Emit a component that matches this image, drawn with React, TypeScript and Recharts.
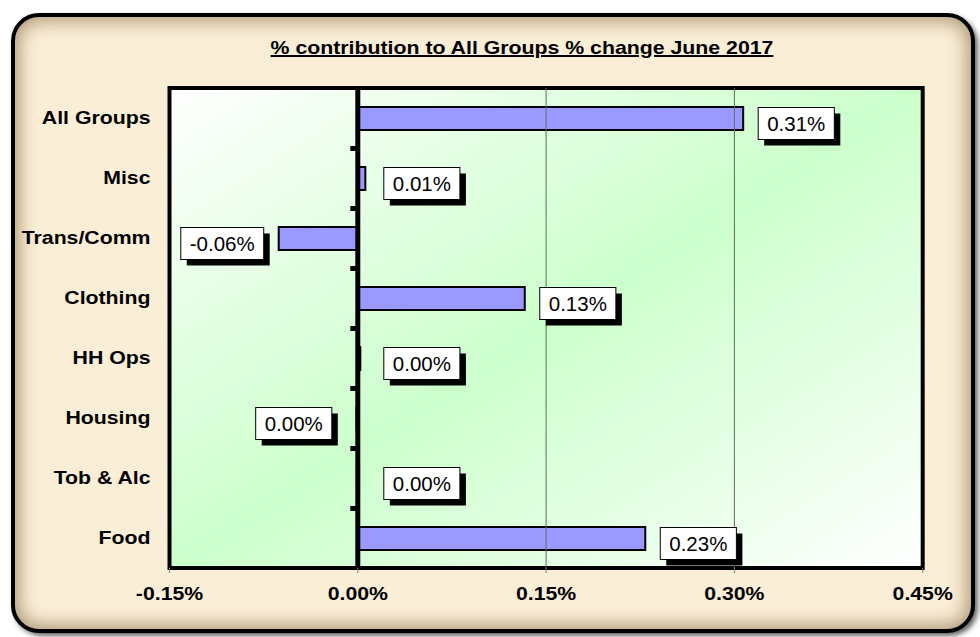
import React from 'react';
import {
  BarChart,
  Bar,
  XAxis,
  YAxis,
  CartesianGrid,
  ReferenceLine,
  ReferenceArea,
  LabelList,
} from 'recharts';

const categories = ['All Groups', 'Misc', 'Trans/Comm', 'Clothing', 'HH Ops', 'Housing', 'Tob & Alc', 'Food'];
const contributions = [0.307, 0.006, -0.063, 0.133, 0.002, -0.001, 0.001, 0.229];
const valueLabels = ['0.31%', '0.01%', '-0.06%', '0.13%', '0.00%', '0.00%', '0.00%', '0.23%'];
const xTicks = [-0.15, 0, 0.15, 0.3, 0.45];
const gridValues = [0.15, 0.3];

const chartData = categories.map((name, i) => ({ name, value: contributions[i] }));

const FONT = "'Liberation Sans', Arial, sans-serif";
const W = 980;
const H = 637;
const MARGIN = { top: 88, right: 57.3, bottom: 29, left: 19.5 };
const X_AXIS_H = 40;
const BAND = (H - MARGIN.top - MARGIN.bottom - X_AXIS_H) / categories.length;

// rough Arial widths (em) for the label boxes
const charW: Record<string, number> = { '.': 0.278, '%': 0.889, '-': 0.333 };
const textWidth = (s: string, size: number) =>
  s.split('').reduce((acc, c) => acc + (charW[c] ?? 0.556), 0) * size;

const CategoryTick = (props: any) => {
  const { x, y, payload } = props;
  return (
    <g transform={`translate(${x},${y}) scale(1.15,1)`}>
      <text textAnchor="end" dy="0.35em" fontFamily={FONT} fontWeight="bold" fontSize={18.5} fill="#000">
        {payload.value}
      </text>
    </g>
  );
};

const PercentTick = (props: any) => {
  const { x, y, payload } = props;
  return (
    <g transform={`translate(${x},${y}) scale(1.18,1)`}>
      <text textAnchor="middle" dy="0.71em" fontFamily={FONT} fontWeight="bold" fontSize={18} fill="#000">
        {`${payload.value.toFixed(2)}%`}
      </text>
    </g>
  );
};

const BarShape = (props: any) => {
  const { x, y, width, height, index } = props;
  const left = Math.min(x, x + width);
  const w = Math.abs(width);
  const v = contributions[index];
  const zero = v >= 0 ? left : left + w;
  const bandTop = y + height / 2 - BAND / 2;
  return (
    <g>
      <rect x={left} y={y} width={w} height={height} fill="#9999ff" stroke="#000" strokeWidth={2} />
      {index > 0 && <rect x={zero - 7.5} y={bandTop - 2.5} width={6} height={5} fill="#000" />}
    </g>
  );
};

const ValueLabel = (props: any) => {
  const vb = props.viewBox ?? props;
  const { x, y, width, height } = vb;
  const idx = props.index;
  const v = contributions[idx];
  const left = Math.min(x, x + width);
  const right = Math.max(x, x + width);
  const zero = v >= 0 ? left : right;
  const len = right - left;
  const txt = valueLabels[idx];
  const fs = 20.5;
  const w = textWidth(txt, fs) + 18;
  const h = 32;
  const off = Math.max(len + 15, 26);
  const bx = v >= 0 ? zero + off : zero - off - w;
  const cy = y + height / 2 + 5;
  return (
    <g>
      <rect x={bx + 6} y={cy - h / 2 + 6} width={w} height={h} fill="#000" />
      <rect x={bx} y={cy - h / 2} width={w} height={h} fill="#fff" stroke="#000" strokeWidth={1} />
      <text x={bx + w / 2} y={cy} dy="0.36em" textAnchor="middle" fontFamily={FONT} fontSize={fs} fill="#000">
        {txt}
      </text>
    </g>
  );
};

export default function App() {
  return (
    <div style={{ position: 'absolute', left: 0, top: 0, width: W, height: H, background: '#fff', overflow: 'hidden' }}>
      <div
        style={{
          position: 'absolute',
          left: 11,
          top: 13,
          width: 964,
          height: 620,
          boxSizing: 'border-box',
          border: '4px solid #000',
          borderRadius: 28,
          background: '#fbeed6',
          boxShadow: 'inset 0 0 18px 4px rgba(110,80,40,0.55), 3px 3px 5px rgba(0,0,0,0.6)',
        }}
      />
      <div
        style={{
          position: 'absolute',
          left: 522,
          top: 39,
          transform: 'translateX(-50%) scaleX(1.15)',
          whiteSpace: 'nowrap',
          fontFamily: FONT,
          fontWeight: 'bold',
          fontSize: 18.5,
          lineHeight: '18.5px',
          textDecoration: 'underline',
          textDecorationThickness: 2,
          color: '#000',
        }}
      >
        % contribution to All Groups % change June 2017
      </div>
      <div style={{ position: 'absolute', left: 0, top: 0 }}>
        <BarChart width={W} height={H} layout="vertical" data={chartData} margin={MARGIN}>
          <defs>
            <linearGradient id="plotBg" x1="0" y1="0" x2="1" y2="1">
              <stop offset="0%" stopColor="#ffffff" />
              <stop offset="50%" stopColor="#ccffcc" />
              <stop offset="100%" stopColor="#ffffff" />
            </linearGradient>
          </defs>
          <CartesianGrid horizontal={false} vertical={false} fill="url(#plotBg)" />
          <XAxis
            type="number"
            domain={[-0.15, 0.45]}
            ticks={xTicks}
            allowDataOverflow
            axisLine={false}
            tickLine={{ stroke: '#808080' }}
            tickSize={5}
            tickMargin={14}
            height={X_AXIS_H}
            tick={<PercentTick />}
          />
          <YAxis
            type="category"
            dataKey="name"
            width={150}
            axisLine={false}
            tickLine={false}
            tickSize={0}
            tickMargin={19}
            tick={<CategoryTick />}
          />
          {gridValues.map((g) => (
            <ReferenceLine key={g} x={g} stroke="#5a725a" strokeWidth={1} />
          ))}
          <ReferenceLine x={0} stroke="#000" strokeWidth={5} />
          <ReferenceArea x1={-0.15} x2={0.45} fill="none" stroke="#000" strokeWidth={4} />
          <Bar dataKey="value" barSize={23} shape={<BarShape />} isAnimationActive={false}>
            <LabelList dataKey="value" content={<ValueLabel />} />
          </Bar>
        </BarChart>
      </div>
    </div>
  );
}
